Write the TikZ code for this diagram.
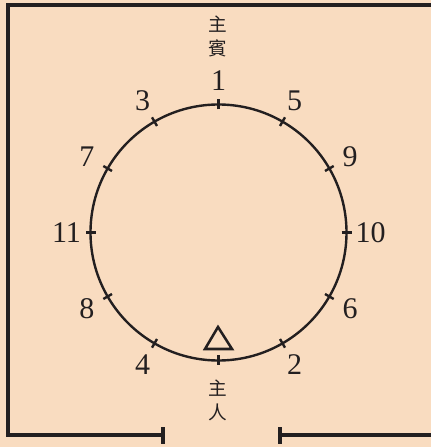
\documentclass[tikz,border=0pt]{standalone}
\usepackage{fontspec}
\setmainfont{Liberation Serif}
\newfontfamily\cjk{Noto Sans CJK TC}
\definecolor{roomBg}{RGB}{249,220,192}
\definecolor{roomInk}{RGB}{35,31,32}
\begin{document}
\begin{tikzpicture}[x=0.75pt, y=0.75pt, line cap=butt, line join=miter]
% seating plan around a round table
\def\tablerad{128}
\providecommand{\roomWallWidth}{2.3pt}
\providecommand{\roomTableWidth}{1.8pt}
\tikzset{
  seatnum/.style={font=\fontsize{22.5}{22.5}\selectfont, text=roomInk, inner sep=0pt},
  rolelabel/.style={font=\cjk\fontsize{14}{18}\selectfont, text=roomInk, align=center, inner sep=0pt},
  wall/.style={draw=roomInk, line width=\roomWallWidth},
}
% Background
\fill[roomBg] (0,0) rectangle (431,447);
\useasboundingbox (0,0) rectangle (431,447);
% Walls with the door gap
\draw[wall] (163,12) -- (8,12) -- (8,442) -- (431,442);
\draw[wall] (280,12) -- (431,12);
\draw[wall] (163,3) -- (163,20);
\draw[wall] (280,3) -- (280,20);
% Table
\begin{scope}[shift={(218.5,214.5)}, draw=roomInk, line width=\roomTableWidth]
  \coordinate (table) at (0,0);
  \draw (table) circle (\tablerad);
  % Seat ticks
  \foreach \a in {0,30,...,330}
    \draw (\a:\tablerad-5) -- (\a:\tablerad+5);
  % Seat numbers
  \foreach \a/\n in {90/1, 60/5, 30/9, 0/10, -30/6, -60/2, -120/4, -150/8, 180/11, 150/7, 120/3}
    \node[seatnum] (seat\n) at (\a:152) {\n};
  % Host marker
  \draw[line width=1.9pt] (-0.5,-94.5) -- (-13.5,-116.5) -- (13.5,-116.5) -- cycle;
\end{scope}
% Roles
\node[rolelabel] (guest) at (218,411) {主\\賓};
\node[rolelabel] (host) at (218,47) {主\\人};
\end{tikzpicture}
\end{document}
